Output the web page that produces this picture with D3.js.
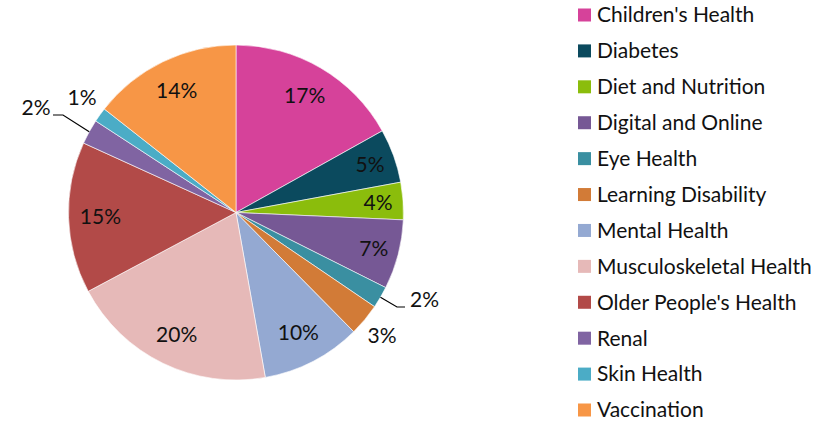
<!DOCTYPE html>
<html>
<head>
<meta charset="utf-8">
<script src="https://cdn.jsdelivr.net/npm/d3@7"></script>
<style>
  body { margin: 0; background: #fff; }
  svg text { font-family: Lato, "Open Sans", sans-serif; fill: #111; }
</style>
</head>
<body>
<svg id="chart"></svg>
<script>
const WIDTH = 824;
const HEIGHT = 421;

const CX = 236;
const CY = 212.5;
const RADIUS = 167.5;
const FONT_SIZE = '21px';

const categories = [
    "Children's Health", "Diabetes", "Diet and Nutrition", "Digital and Online",
    "Eye Health", "Learning Disability", "Mental Health", "Musculoskeletal Health",
    "Older People's Health", "Renal", "Skin Health", "Vaccination"
];
// percentages
const values = [16.9, 5.2, 3.6, 6.7, 2.1, 3.1, 9.6, 20.0, 14.6, 2.4, 1.4, 14.4];
const colors = [
    "#d6429a", "#0b4a5e", "#8bbd0c", "#765895",
    "#3a8fa1", "#d27b37", "#94a9d2", "#e6b9b8",
    "#b24a48", "#8064a2", "#4bacc6", "#f79646"
];

// small slices get their labels outside the pie
const outsideLabels = {
    4: { x: 410, y: 300, anchor: "start", line: true },
    5: { x: 382, y: 336, anchor: "middle", line: false },
    9: { x: 36, y: 108, anchor: "middle", line: true },
    10: { x: 82, y: 98, anchor: "middle", line: false }
};

const svg = d3.select('#chart').attr('width', WIDTH).attr('height', HEIGHT);

const total = d3.sum(values);
const data = categories.map((c, i) => ({ key: c, value: values[i], color: colors[i], i }));
const pctText = v => Math.round(v / total * 100 + 1e-9) + '%';

const pie = d3.pie().value(d => d.value).sort(null);
const arcs = pie(data);

const arc = d3.arc().innerRadius(0).outerRadius(RADIUS);

const g = svg.append('g').attr('transform', `translate(${CX}, ${CY})`);

g.selectAll('path')
    .data(arcs)
    .join('path')
    .attr('d', arc)
    .attr('fill', d => d.data.color)
    .attr('stroke', '#fff')
    .attr('stroke-width', 0.6);

// inside labels
const labelPos = d => {
    const r = d.data.value < 8 ? RADIUS * 0.85 : RADIUS * 0.81;
    return d3.arc().innerRadius(r).outerRadius(r).centroid(d);
};

g.selectAll('text.inside')
    .data(arcs.filter(d => !outsideLabels[d.data.i]))
    .join('text')
    .attr('class', 'inside')
    .attr('transform', d => `translate(${labelPos(d)})`)
    .attr('text-anchor', 'middle')
    .attr('dy', '0.35em')
    .style('font-size', FONT_SIZE)
    .text(d => pctText(d.data.value));

// outside labels + leader lines
arcs.filter(d => outsideLabels[d.data.i]).forEach(d => {
    const o = outsideLabels[d.data.i];
    const mid = (d.startAngle + d.endAngle) / 2;
    const ex = CX + Math.sin(mid) * RADIUS;
    const ey = CY - Math.cos(mid) * RADIUS;
    if (o.line) {
        const isRight = Math.sin(mid) > 0;
        const lx = isRight ? o.x - 5 : o.x + 17;
        const ly = o.y + 7;
        const kx = isRight ? lx - 8 : lx + 10;
        svg.append('polyline')
            .attr('points', `${ex},${ey} ${kx},${ly} ${lx},${ly}`)
            .attr('fill', 'none')
            .attr('stroke', '#000')
            .attr('stroke-width', 1.2);
    }
    svg.append('text')
        .attr('x', o.x)
        .attr('y', o.y)
        .attr('dy', '0.35em')
        .attr('text-anchor', o.anchor)
        .style('font-size', FONT_SIZE)
        .text(pctText(d.data.value));
});

// legend
const legendY = d3.scaleLinear().domain([0, categories.length - 1]).range([15, 410]);

const legend = svg.selectAll('.legend')
    .data(data)
    .join('g')
    .attr('class', 'legend')
    .attr('transform', d => `translate(578, ${legendY(d.i)})`);

legend.append('rect')
    .attr('x', 0)
    .attr('y', -6.5)
    .attr('width', 13)
    .attr('height', 13)
    .attr('fill', d => d.color);

legend.append('text')
    .attr('x', 19)
    .attr('y', 0)
    .attr('dy', '0.35em')
    .style('font-size', FONT_SIZE)
    .text(d => d.key);
</script>
</body>
</html>
